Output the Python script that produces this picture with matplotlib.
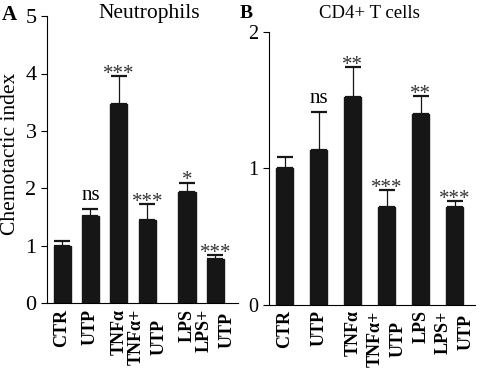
import numpy as np
import matplotlib
matplotlib.use('Agg')
import matplotlib.pyplot as plt

plt.rcParams['font.family'] = ['Liberation Serif', 'DejaVu Serif']

# data
labels = ['CTR', 'UTP', 'TNFα', 'TNFα+\nUTP', 'LPS', 'LPS+\nUTP']
neu_mean = [1.0, 1.51, 3.47, 1.44, 1.93, 0.77]
neu_err = [0.08, 0.12, 0.48, 0.28, 0.17, 0.07]
neu_sig = ['', 'ns', '***', '***', '*', '***']
cd4_mean = [1.0, 1.135, 1.52, 0.72, 1.40, 0.72]
cd4_err = [0.08, 0.275, 0.22, 0.12, 0.13, 0.04]
cd4_sig = ['', 'ns', '**', '***', '**', '***']

fig = plt.figure(figsize=(4.8, 3.75), dpi=100)
axA = fig.add_axes([0.098, 0.192, 0.398, 0.765])
axB = fig.add_axes([0.560, 0.187, 0.430, 0.728])

def panel(ax, x, mean, err, sig, width, ymax, ticks, off, tsize):
    ax.bar(x, mean, width=width, color='#161616', edgecolor='#161616')
    ax.errorbar(x, mean, yerr=[np.zeros(len(mean)), err], fmt='none',
                ecolor='#161616', elinewidth=0.9, capsize=6, capthick=1.6)
    for xi, m, e, s in zip(x, mean, err, sig):
        if s == 'ns':
            ax.text(xi, m + e + off * 0.3, s, ha='center', va='bottom', fontsize=15)
        elif s:
            ax.text(xi, m + e - off * 0.55, s, ha='center', va='bottom',
                    fontsize=15, color='#333333')
    ax.set_ylim(0, ymax)
    ax.set_yticks(ticks)
    ax.set_xticks(x)
    ax.set_xticklabels(labels, rotation=90, fontweight='bold', fontsize=13,
                       linespacing=1.45)
    ax.tick_params(axis='x', length=0, pad=4)
    ax.tick_params(axis='y', length=4, labelsize=tsize, width=0.8)
    for sp in ['top', 'right']:
        ax.spines[sp].set_visible(False)
    ax.spines['left'].set_linewidth(0.8)
    ax.spines['bottom'].set_linewidth(0.8)

xA = np.array([0, 1, 2, 3, 4.4, 5.4])
panel(axA, xA, neu_mean, neu_err, neu_sig, 0.6, 5, [0, 1, 2, 3, 4, 5], 0.25, 16)
axA.set_xlim(-0.53, 6.2)

xB = np.arange(6)
panel(axB, xB, cd4_mean, cd4_err, cd4_sig, 0.5, 2, [0, 1, 2], 0.1, 14.5)
axB.set_xlim(-0.47, 5.6)

fig.text(0.003, 0.589, 'Chemotactic index', fontsize=15.5, rotation=90,
         ha='left', va='center')
fig.text(0.31, 0.951, 'Neutrophils', fontsize=15.5, ha='center', va='baseline')
fig.text(0.77, 0.951, 'CD4+ T cells', fontsize=13.5, ha='center', va='baseline')
fig.text(0.004, 0.947, 'A', fontsize=15, fontweight='bold', va='baseline')
fig.text(0.500, 0.953, 'B', fontsize=14, fontweight='bold', va='baseline')

plt.savefig('out.png', dpi=100)
